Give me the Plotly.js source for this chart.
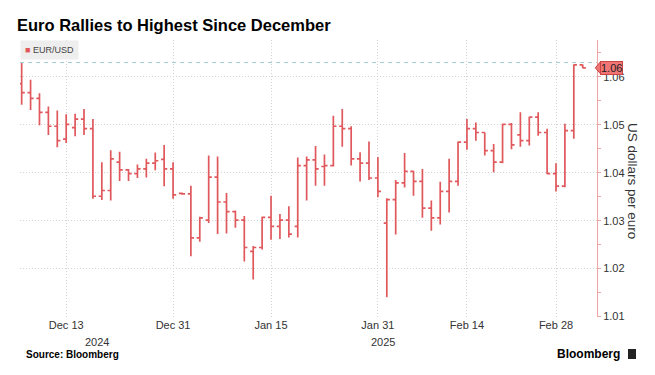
<!DOCTYPE html>
<html>
<head>
<meta charset="utf-8">
<script src="https://cdn.plot.ly/plotly-3.0.1.min.js"></script>
<style>
  html, body { margin: 0; padding: 0; background: #fff; }
  #chart { width: 655px; height: 375px; }
</style>
</head>
<body>
<div id="chart"></div>
<script>
// Daily EUR/USD bars (weekdays)
const dates = [
  '2024-12-06','2024-12-09','2024-12-10','2024-12-11','2024-12-12','2024-12-13',
  '2024-12-16','2024-12-17','2024-12-18','2024-12-19','2024-12-20',
  '2024-12-23','2024-12-24','2024-12-25','2024-12-26','2024-12-27',
  '2024-12-30','2024-12-31','2025-01-01','2025-01-02','2025-01-03',
  '2025-01-06','2025-01-07','2025-01-08','2025-01-09','2025-01-10',
  '2025-01-13','2025-01-14','2025-01-15','2025-01-16','2025-01-17',
  '2025-01-20','2025-01-21','2025-01-22','2025-01-23','2025-01-24',
  '2025-01-27','2025-01-28','2025-01-29','2025-01-30','2025-01-31',
  '2025-02-03','2025-02-04','2025-02-05','2025-02-06','2025-02-07',
  '2025-02-10','2025-02-11','2025-02-12','2025-02-13','2025-02-14',
  '2025-02-17','2025-02-18','2025-02-19','2025-02-20','2025-02-21',
  '2025-02-24','2025-02-25','2025-02-26','2025-02-27','2025-02-28',
  '2025-03-03','2025-03-04','2025-03-05'
];
const opens = [
  1.0586,1.0567,1.0555,1.0526,1.0497,1.0470,
  1.0494,1.0512,1.0492,1.0351,1.0363,
  1.0422,1.0406,1.0398,1.0408,1.0420,
  1.0428,1.0408,1.0357,1.0356,1.0264,
  1.0301,1.0391,1.0339,1.0319,1.0301,
  1.0236,1.0244,1.0307,1.0288,1.0301,
  1.0288,1.0415,1.0427,1.0413,1.0415,
  1.0497,1.0492,1.0429,1.0420,1.0389,
  1.0295,1.0344,1.0379,1.0403,1.0382,
  1.0326,1.0306,1.0361,1.0382,1.0464,
  1.0492,1.0484,1.0446,1.0422,1.0501,
  1.0479,1.0467,1.0516,1.0484,1.0398,
  1.0372,1.0488,1.0625
];
const highs = [
  1.0630,1.0594,1.0566,1.0538,1.0530,1.0522,
  1.0523,1.0533,1.0512,1.0422,1.0447,
  1.0444,1.0408,1.0417,1.0429,1.0442,
  1.0458,1.0422,1.0359,1.0373,1.0308,
  1.0436,1.0434,1.0358,1.0321,1.0310,
  1.0247,1.0308,1.0352,1.0314,1.0330,
  1.0432,1.0434,1.0456,1.0438,1.0519,
  1.0533,1.0497,1.0443,1.0465,1.0433,
  1.0347,1.0385,1.0441,1.0404,1.0408,
  1.0342,1.0381,1.0429,1.0465,1.0512,
  1.0505,1.0484,1.0460,1.0502,1.0504,
  1.0526,1.0517,1.0526,1.0492,1.0420,
  1.0502,1.0626,1.0626
];
const lows = [
  1.0542,1.0531,1.0499,1.0479,1.0453,1.0462,
  1.0476,1.0479,1.0346,1.0343,1.0342,
  1.0383,1.0383,1.0389,1.0390,1.0405,
  1.0372,1.0346,1.0354,1.0226,1.0256,
  1.0295,1.0272,1.0273,1.0285,1.0215,
  1.0177,1.0240,1.0260,1.0262,1.0265,
  1.0265,1.0342,1.0373,1.0373,1.0413,
  1.0454,1.0415,1.0382,1.0385,1.0349,
  1.0140,1.0271,1.0369,1.0352,1.0306,
  1.0279,1.0292,1.0317,1.0373,1.0448,
  1.0467,1.0436,1.0401,1.0420,1.0449,
  1.0454,1.0457,1.0477,1.0397,1.0361,
  1.0370,1.0471,1.0618
];
const closes = [
  1.0567,1.0555,1.0526,1.0497,1.0467,1.0501,
  1.0512,1.0492,1.0351,1.0363,1.0429,
  1.0406,1.0398,1.0408,1.0420,1.0425,
  1.0408,1.0354,1.0356,1.0264,1.0306,
  1.0391,1.0339,1.0319,1.0301,1.0244,
  1.0244,1.0307,1.0288,1.0301,1.0272,
  1.0415,1.0427,1.0408,1.0415,1.0497,
  1.0492,1.0429,1.0420,1.0389,1.0361,
  1.0344,1.0379,1.0403,1.0382,1.0326,
  1.0306,1.0361,1.0382,1.0464,1.0492,
  1.0484,1.0446,1.0422,1.0501,1.0458,
  1.0467,1.0516,1.0484,1.0398,1.0372,
  1.0488,1.0625,1.0619
];
const xTickVals = ['2024-12-13','2024-12-31','2025-01-15','2025-01-31','2025-02-14','2025-02-28'];
const xTickText = ['Dec 13','Dec 31','Jan 15','Jan 31','Feb 14','Feb 28'];
const yearLabels = ['2024','2025'];
const yearPositions = ['2024-12-18 12:00','2025-01-31 14:00'];
const seriesName = 'EUR/USD';

const RED = '#e0585c';
const AXIS_RED = '#f2a3a3';
const GRID = '#d2d2d2';
const FONT = 'Liberation Sans, Arial, sans-serif';

const lastClose = closes[closes.length - 1];
const maxHigh = Math.max(...highs);

const trace = {
  type: 'ohlc',
  x: dates, open: opens, high: highs, low: lows, close: closes,
  increasing: { line: { color: RED, width: 1.7 } },
  decreasing: { line: { color: RED, width: 1.7 } },
  tickwidth: 0.35,
  hoverinfo: 'none',
  showlegend: false
};

const layout = {
  width: 655, height: 375,
  margin: { l: 20, r: 58, t: 40, b: 58 },
  paper_bgcolor: '#ffffff', plot_bgcolor: '#ffffff',
  font: { family: FONT, size: 11, color: '#333' },
  showlegend: false,
  title: {
    text: '<b>Euro Rallies to Highest Since December</b>',
    font: { family: FONT, size: 16.5, color: '#000' },
    x: 0.026, xref: 'container', xanchor: 'left',
    y: 0.933, yref: 'container', yanchor: 'middle'
  },
  xaxis: {
    type: 'date',
    rangebreaks: [{ bounds: ['sat', 'mon'] }],
    range: ['2024-12-05 19:30', '2025-03-06 14:30'],
    rangeslider: { visible: false },
    tickmode: 'array', tickvals: xTickVals, ticktext: xTickText,
    ticks: '', showline: false, zeroline: false,
    showgrid: true, gridcolor: GRID, griddash: '1px,2px', gridwidth: 1,
    tickfont: { family: FONT, size: 11, color: '#333' },
    fixedrange: true
  },
  yaxis: {
    side: 'right',
    range: [1.0099, 1.0677],
    tickmode: 'linear', tick0: 1.0, dtick: 0.01, tickformat: '.2f',
    ticks: 'outside', ticklen: 3, tickcolor: AXIS_RED,
    minor: { tickmode: 'linear', tick0: 1.0, dtick: 0.005, ticks: 'outside', ticklen: 3, tickcolor: AXIS_RED, showgrid: false },
    showline: true, linecolor: AXIS_RED, linewidth: 1,
    showgrid: true, gridcolor: GRID, griddash: '1px,2px', gridwidth: 1,
    zeroline: false,
    tickfont: { family: FONT, size: 11, color: '#333' },
    fixedrange: true
  },
  shapes: [
    { type: 'line', xref: 'paper', x0: 0, x1: 1, yref: 'y', y0: maxHigh, y1: maxHigh,
      line: { color: '#a9cfd2', width: 1, dash: '4px,4px' } },
    { type: 'path', xref: 'paper', yref: 'y',
      path: `M 0.997,${lastClose} L 1.006,${lastClose + 0.00125} L 1.006,${lastClose - 0.00125} Z`,
      fillcolor: '#f07575', line: { color: '#cc4444', width: 1 } },
    { type: 'rect', xref: 'paper', yref: 'paper', x0: 1.0537, x1: 1.0676, y0: -0.1516, y1: -0.1155,
      fillcolor: '#222', line: { width: 0 } }
  ],
  annotations: [
    { xref: 'paper', yref: 'paper', x: 0, y: 1, xanchor: 'left', yanchor: 'top',
      text: `<span style="color:${RED}">■</span> ${seriesName}`, showarrow: false,
      bgcolor: '#eeeeee', borderpad: 4, font: { family: FONT, size: 9, color: '#444' } },
    { xref: 'paper', yref: 'y', x: 1.005, y: lastClose, xanchor: 'left', yanchor: 'middle',
      text: lastClose.toFixed(2), showarrow: false,
      bgcolor: '#f07575', bordercolor: '#cc4444', borderwidth: 1, borderpad: 0,
      font: { family: FONT, size: 11, color: '#222' } },
    { xref: 'paper', yref: 'paper', x: 1.0607, y: 0.491, xanchor: 'center', yanchor: 'middle',
      text: 'US dollars per euro', textangle: 90, showarrow: false,
      font: { family: FONT, size: 13.5, color: '#333' } },
    { xref: 'x', yref: 'paper', x: yearPositions[0], y: -0.09, xanchor: 'center', yanchor: 'middle',
      text: yearLabels[0], showarrow: false, font: { family: FONT, size: 11, color: '#333' } },
    { xref: 'x', yref: 'paper', x: yearPositions[1], y: -0.09, xanchor: 'center', yanchor: 'middle',
      text: yearLabels[1], showarrow: false, font: { family: FONT, size: 11, color: '#333' } },
    { xref: 'paper', yref: 'paper', x: 0.007, y: -0.137, xanchor: 'left', yanchor: 'middle',
      text: '<b>Source: Bloomberg</b>', showarrow: false, font: { family: FONT, size: 10, color: '#000' } },
    { xref: 'paper', yref: 'paper', x: 1.043, y: -0.134, xanchor: 'right', yanchor: 'middle',
      text: '<b>Bloomberg</b>', showarrow: false, font: { family: FONT, size: 12, color: '#000' } }
  ]
};

Plotly.newPlot('chart', [trace], layout, { displayModeBar: false, staticPlot: true });
</script>
</body>
</html>
